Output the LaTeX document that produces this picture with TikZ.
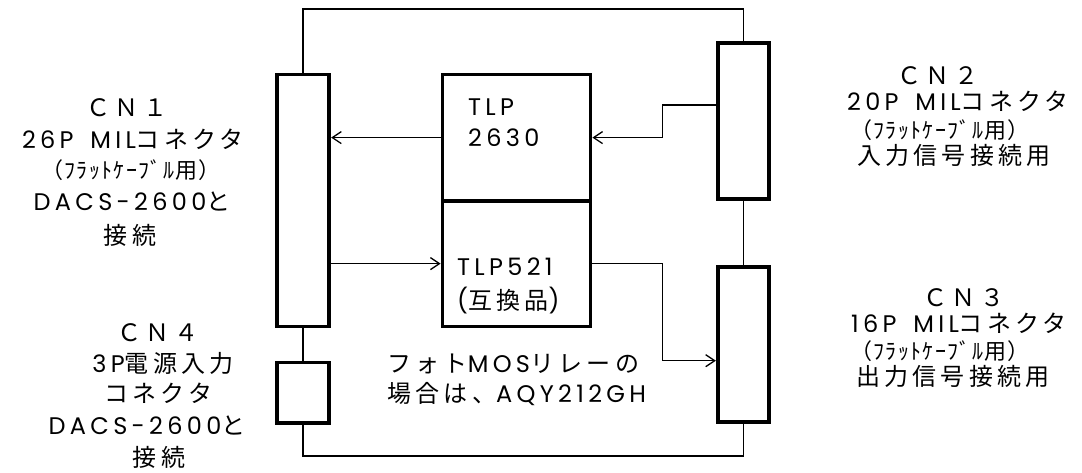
\documentclass[tikz,border=0pt]{standalone}
\usepackage{fontspec}
\setmainfont{Noto Sans CJK JP}[LetterSpace=18]
\newfontfamily\lat{Poppins}[LetterSpace=18]
\newfontfamily\smallfnt{Noto Sans CJK JP}[LetterSpace=6]
\newcommand\wgap{\hspace{6pt}}
\usetikzlibrary{arrows.meta}
\begin{document}
\begin{tikzpicture}[x=1pt,y=-1pt,
  box/.style={draw, line width=3.8pt, inner sep=0pt},
  wire/.style={line width=1.3pt},
  arr/.style={line width=1.3pt, -{Straight Barb[length=9pt,width=12pt]}},
  lbl/.style={inner sep=0pt, anchor=base, font=\fontsize{24}{28}\selectfont},
  plbl/.style={inner sep=0pt, anchor=base, font=\smallfnt\fontsize{22}{24}\selectfont},
  tlbl/.style={inner sep=0pt, anchor=base west, font=\fontsize{24}{28}\selectfont}]
\useasboundingbox (0,0) rectangle (1082,473);
% connectors
\node[box, minimum width=52.5pt, minimum height=252pt] (cn1) at (303,200.5) {};
\node[box, minimum width=52.5pt, minimum height=60.8pt] (cn4) at (303,392.8) {};
\node[box, minimum width=51.5pt, minimum height=155.9pt] (cn2) at (743.5,121) {};
\node[box, minimum width=51.5pt, minimum height=155.5pt] (cn3) at (743.5,344.5) {};
% photocouplers
\node[box, minimum width=148pt, minimum height=126.2pt] (tlpA) at (516.5,137.6) {};
\node[box, minimum width=148pt, minimum height=125.8pt] (tlpB) at (516.5,263.6) {};
% board outline
\coordinate (topy) at (0,9);
\coordinate (boty) at (0,456);
\draw[wire] (cn1.north) -- (cn1.north |- topy) -| (cn2.north);
\draw[wire] (cn2.south) -- (cn3.north);
\draw[wire] (cn1.south) -- (cn4.north);
\draw[wire] (cn4.south) -- (cn4.south |- boty) -| (cn3.south);
% signals
\coordinate (c2o) at (716,105);
\coordinate (jA) at (662.7,137.6);
\coordinate (jB) at (662.7,360.7);
\draw[arr] (tlpA.west) -- (tlpA.west -| cn1.east);
\draw[arr] (c2o) -| (jA) -- (tlpA.east);
\draw[arr] (cn1.east |- tlpB.west) -- (tlpB.west);
\draw[arr] (tlpB.east) -| (jB) -- (jB -| cn3.west);
% texts in boxes
\node[tlbl] (tA1) at (468,116) {\lat TLP};
\node[tlbl] (tA2) at (468,147) {\lat 2630};
\node[tlbl] (tB1) at (457,276) {\lat TLP521};
\node[tlbl] (tB2) at (457,309) {{\lat(}互換品{\lat)}};
\node[tlbl] (m1) at (387,372) {フォト{\lat MOS}リレーの};
\node[tlbl] (m2) at (387,402) {場合は、{\lat AQY212GH}};
% CN1 label
\node[lbl] (l11) at (127,117) {ＣＮ１};
\node[lbl] (l12) at (133,149) {{\lat 26P\wgap{} MIL}コネクタ};
\node[plbl] (l13) at (131,179) {（ﾌﾗｯﾄｹｰﾌﾞﾙ用）};
\node[lbl] (l14) at (132,211) {{\lat DACS-2600}と};
\node[lbl] (l15) at (130,244) {接続};
% CN4 label
\node[lbl] (l41) at (158,341) {ＣＮ４};
\node[lbl] (l42) at (163,372) {{\lat 3P}電源入力};
\node[lbl] (l43) at (158,402) {コネクタ};
\node[lbl] (l44) at (147,434) {{\lat DACS-2600}と};
\node[lbl] (l45) at (159,466) {接続};
% CN2 label
\node[lbl] (l21) at (938,85) {ＣＮ２};
\node[lbl] (l22) at (958,111) {{\lat 20P\wgap{} MIL}コネクタ};
\node[plbl] (l23) at (940,138.5) {（ﾌﾗｯﾄｹｰﾌﾞﾙ用）};
\node[lbl] (l24) at (954,165) {入力信号接続用};
% CN3 label
\node[lbl] (l31) at (964,306) {ＣＮ３};
\node[lbl] (l32) at (959,332) {{\lat 16P\wgap{} MIL}コネクタ};
\node[plbl] (l33) at (940,359) {（ﾌﾗｯﾄｹｰﾌﾞﾙ用）};
\node[lbl] (l34) at (953,385) {出力信号接続用};
\end{tikzpicture}
\end{document}
